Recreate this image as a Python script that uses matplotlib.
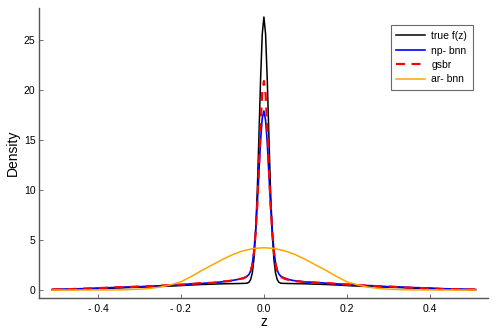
import matplotlib
matplotlib.use("Agg")
import matplotlib.pyplot as plt

plt.rcParams['font.family'] = ['Liberation Sans', 'DejaVu Sans']

# ---- data ----
z_neg = [-0.51, -0.47, -0.43, -0.4, -0.36, -0.33, -0.3, -0.27, -0.24, -0.21,
         -0.18, -0.15, -0.12, -0.1, -0.085, -0.07, -0.06, -0.05, -0.044, -0.04,
         -0.036, -0.032, -0.028, -0.024, -0.02, -0.016, -0.012, -0.008, -0.004]
z_grid = z_neg + [0.0] + [-v for v in reversed(z_neg)]

true_f = [0.04, 0.06, 0.1, 0.14, 0.19, 0.24, 0.28, 0.32, 0.37, 0.42,
          0.49, 0.55, 0.59, 0.62, 0.63, 0.64, 0.65, 0.66, 0.67, 0.69,
          0.78, 1.05, 1.7, 3.1, 5.8, 9.9, 15.4, 21.1, 25.6,
          27.3,
          25.6, 21.1, 15.4, 9.9, 5.8, 3.1, 1.7, 1.05, 0.78, 0.69,
          0.67, 0.66, 0.65, 0.64, 0.63, 0.62, 0.59, 0.55, 0.49, 0.42,
          0.37, 0.32, 0.28, 0.24, 0.19, 0.14, 0.1, 0.06, 0.04]

np_bnn = [0.05, 0.1, 0.14, 0.2, 0.25, 0.3, 0.33, 0.4, 0.44, 0.5,
          0.6, 0.66, 0.74, 0.82, 0.9, 1.0, 1.08, 1.2, 1.3, 1.4,
          1.55, 1.9, 2.6, 3.9, 5.9, 8.6, 11.8, 15.0, 17.2,
          17.9,
          17.0, 14.8, 11.6, 8.5, 6.0, 4.0, 2.7, 2.0, 1.6, 1.4,
          1.3, 1.2, 1.05, 0.95, 0.88, 0.8, 0.78, 0.68, 0.6, 0.56,
          0.45, 0.42, 0.33, 0.3, 0.24, 0.2, 0.13, 0.1, 0.04]

gsbr = [0.06, 0.08, 0.15, 0.18, 0.27, 0.28, 0.36, 0.38, 0.46, 0.52,
        0.58, 0.7, 0.72, 0.86, 0.88, 1.02, 1.1, 1.15, 1.28, 1.38,
        1.5, 1.8, 2.5, 3.7, 5.6, 8.5, 12.3, 16.5, 19.8,
        20.9,
        19.6, 16.3, 12.2, 8.6, 5.7, 3.8, 2.6, 1.9, 1.5, 1.3,
        1.25, 1.12, 1.0, 0.9, 0.85, 0.78, 0.72, 0.7, 0.6, 0.5,
        0.46, 0.38, 0.36, 0.27, 0.22, 0.16, 0.1, 0.08, 0.05]

z_ar = [-0.51, -0.475, -0.45, -0.425, -0.4, -0.375, -0.35, -0.325, -0.3, -0.275,
        -0.25, -0.225, -0.2, -0.175, -0.15, -0.125, -0.1, -0.075, -0.05, -0.025,
        0.0,
        0.025, 0.05, 0.075, 0.1, 0.125, 0.15, 0.175, 0.2, 0.225,
        0.25, 0.275, 0.3, 0.325, 0.35, 0.375, 0.4, 0.425, 0.45, 0.475, 0.51]
ar_bnn = [0.0, 0.0, 0.0, 0.002, 0.005, 0.01, 0.02, 0.04, 0.08, 0.16,
          0.3, 0.52, 0.82, 1.35, 1.95, 2.5, 3.05, 3.55, 3.92, 4.15,
          4.23,
          4.15, 3.92, 3.55, 3.05, 2.5, 1.95, 1.35, 0.82, 0.52,
          0.3, 0.16, 0.08, 0.04, 0.02, 0.01, 0.005, 0.002, 0.0, 0.0, 0.0]

xticks = [-0.4, -0.2, 0.0, 0.2, 0.4]
xticklabels = ["- 0.4", "- 0.2", "0.0", "0.2", "0.4"]
yticks = [0, 5, 10, 15, 20, 25]

# ---- figure ----
fig = plt.figure(figsize=(4.98, 3.32), dpi=100)
ax = fig.add_axes([39/498, 1 - 298/332, (488 - 39)/498, (298 - 8)/332])

ax.plot(z_grid, true_f, color='black', lw=1.1, label='true f(z)')
ax.plot(z_grid, np_bnn, color='#0000ff', lw=1.2, label='np- bnn')
ax.plot(z_grid, gsbr, color='#ff0000', lw=1.6, ls=(0, (4, 3)), label='gsbr')
ax.plot(z_ar, ar_bnn, color='#ffa500', lw=1.1, label='ar- bnn')

ax.set_xlim(-0.542, 0.54)
ax.set_ylim(-0.8, 28.2)
ax.set_xticks(xticks)
ax.set_xticklabels(xticklabels)
ax.set_yticks(yticks)

for s in ['top', 'right']:
    ax.spines[s].set_visible(False)
for s in ['left', 'bottom']:
    ax.spines[s].set_color('#555555')
    ax.spines[s].set_linewidth(1.0)

ax.tick_params(direction='in', length=3, width=0.6, color='#555555',
               labelsize=7.5, labelcolor='black')
ax.tick_params(axis='y', pad=2.5)
ax.tick_params(axis='x', pad=4)

ax.set_xlabel('z', fontsize=10, labelpad=1)
ax.set_ylabel('Density', fontsize=10, labelpad=3)

leg = ax.legend(loc='upper right', bbox_to_anchor=(0.966, 0.94), fontsize=7.5,
                frameon=True, fancybox=False, handlelength=2.8,
                borderpad=0.55, labelspacing=0.42, handletextpad=0.55,
                borderaxespad=0.0)
leg.get_frame().set_edgecolor('#444444')
leg.get_frame().set_linewidth(0.8)

fig.savefig('out.png', dpi=100)
